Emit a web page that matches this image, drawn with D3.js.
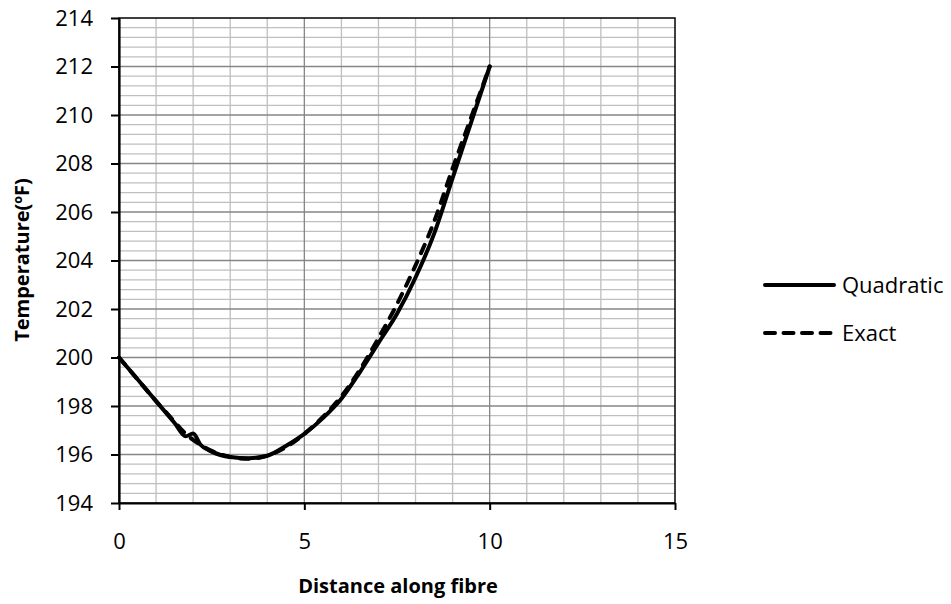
<!DOCTYPE html>
<html lang="en">
<head>
  <meta charset="UTF-8">
  <title>Temperature along fibre</title>
  <script src="https://d3js.org/d3.v7.min.js"></script>
  <style>
    body { margin: 0; background: #fff; }
    svg text { font-family: "Open Sans", "Noto Sans", sans-serif; fill: #000; }
  </style>
</head>
<body>
  <div id="chart"></div>
  <script>
    // values
    const distance = [0, 0.5, 1, 1.5, 1.8, 2.0, 2.2, 2.5, 3, 3.5, 4, 4.5, 5, 5.5, 6, 6.5, 7, 7.5, 8, 8.5, 9, 9.5, 10];
    const quadratic = [200, 199.1, 198.2, 197.3, 196.75, 196.87, 196.4, 196.12, 195.9, 195.85, 195.95, 196.35, 196.85, 197.5, 198.3, 199.4, 200.6, 201.8, 203.3, 205.1, 207.4, 209.7, 212];
    const exact = [200, 199.1, 198.2, 197.35, 196.85, 196.6, 196.4, 196.15, 195.9, 195.82, 195.95, 196.3, 196.85, 197.55, 198.4, 199.5, 200.8, 202.2, 203.8, 205.6, 207.8, 209.9, 212];
    const xTicks = [0, 5, 10, 15];
    const yTicks = [194, 196, 198, 200, 202, 204, 206, 208, 210, 212, 214];
    const series = [
      { name: "Quadratic", values: quadratic, dash: null },
      { name: "Exact", values: exact, dash: "9,9" }
    ];

    const W = 951, H = 604;
    const margin = { top: 18, right: 276, bottom: 101, left: 119 };
    const width = W - margin.left - margin.right;
    const height = H - margin.top - margin.bottom;

    const svg = d3.select("#chart").append("svg")
      .attr("width", W)
      .attr("height", H);
    const g = svg.append("g")
      .attr("transform", `translate(${margin.left},${margin.top})`);

    const x = d3.scaleLinear().domain([0, 15]).range([0, width]);
    const y = d3.scaleLinear().domain([194, 214]).range([height, 0]);

    //minor grid
    g.append("g").selectAll("line")
      .data(d3.range(194.4, 214, 0.4).filter(v => Math.abs(v / 2 - Math.round(v / 2)) > 0.01))
      .enter().append("line")
      .attr("x1", 0).attr("x2", width)
      .attr("y1", d => y(d)).attr("y2", d => y(d))
      .attr("stroke", "#bfbfbf").attr("stroke-width", 1.3);
    g.append("g").selectAll("line")
      .data(d3.range(1, 15).filter(v => v % 5 !== 0))
      .enter().append("line")
      .attr("y1", 0).attr("y2", height)
      .attr("x1", d => x(d)).attr("x2", d => x(d))
      .attr("stroke", "#bfbfbf").attr("stroke-width", 1.3);

    //major grid
    g.append("g").selectAll("line")
      .data(yTicks.slice(1, -1))
      .enter().append("line")
      .attr("x1", 0).attr("x2", width)
      .attr("y1", d => y(d)).attr("y2", d => y(d))
      .attr("stroke", "#868686").attr("stroke-width", 1.3);
    g.append("g").selectAll("line")
      .data(xTicks.slice(1, -1))
      .enter().append("line")
      .attr("y1", 0).attr("y2", height)
      .attr("x1", d => x(d)).attr("x2", d => x(d))
      .attr("stroke", "#868686").attr("stroke-width", 1.3);

    //plot border
    g.append("rect")
      .attr("width", width).attr("height", height)
      .attr("fill", "none").attr("stroke", "#000").attr("stroke-width", 1.5);

    //axes
    const xAxis = g.append("g")
      .attr("transform", `translate(0,${height})`)
      .call(d3.axisBottom(x).tickValues(xTicks).tickSize(7).tickSizeOuter(0).tickPadding(23));
    const yAxis = g.append("g")
      .call(d3.axisLeft(y).tickValues(yTicks).tickSize(8).tickSizeOuter(0).tickPadding(18));
    [xAxis, yAxis].forEach(a => {
      a.select(".domain").attr("stroke", "#000").attr("stroke-width", 2.2);
      a.selectAll(".tick line").attr("stroke", "#000").attr("stroke-width", 2);
      a.selectAll(".tick text").style("font-size", "22px");
    });

    //lines
    const line = d3.line()
      .x((d, i) => x(distance[i]))
      .y(d => y(d))
      .curve(d3.curveMonotoneX);
    series.forEach(s => {
      g.append("path")
        .datum(s.values)
        .attr("d", line)
        .attr("fill", "none")
        .attr("stroke", "#000")
        .attr("stroke-width", 4)
        .attr("stroke-linecap", "round")
        .attr("stroke-linejoin", "round")
        .attr("stroke-dasharray", s.dash);
    });

    //axis labels
    svg.append("text")
      .attr("x", 398).attr("y", 593)
      .attr("text-anchor", "middle")
      .style("font-size", "20px").style("font-weight", "bold")
      .text("Distance along fibre");
    svg.append("text")
      .attr("transform", "translate(29,260) rotate(-90)")
      .attr("text-anchor", "middle")
      .style("font-size", "20px").style("font-weight", "bold")
      .text("Temperature(ºF)");

    //legend
    const legend = svg.selectAll(".legend")
      .data(series)
      .enter().append("g")
      .attr("class", "legend")
      .attr("transform", (d, i) => `translate(765, ${285 + i * 48})`);
    legend.append("line")
      .attr("x1", 0).attr("x2", 69)
      .attr("stroke", "#000").attr("stroke-width", 4)
      .attr("stroke-linecap", "round")
      .attr("stroke-dasharray", d => d.dash ? "10,8.5" : null);
    legend.append("text")
      .attr("x", 77).attr("dy", "0.35em")
      .style("font-size", "22px")
      .text(d => d.name);
  </script>
</body>
</html>
